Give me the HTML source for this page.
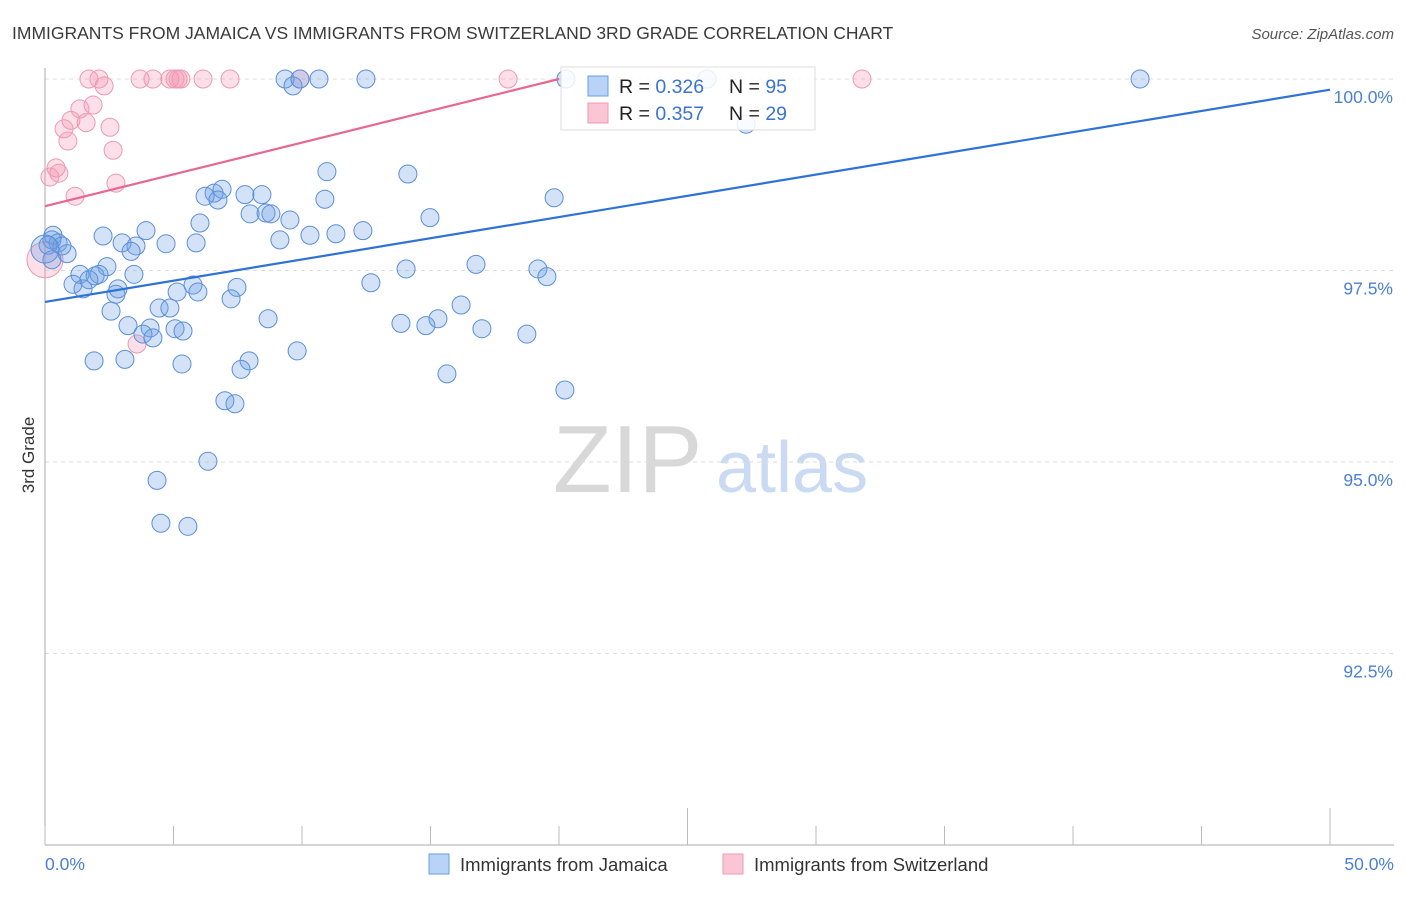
<!DOCTYPE html>
<html><head><meta charset="utf-8">
<style>
body{margin:0;background:#fff;font-family:"Liberation Sans",sans-serif;}
svg text{font-family:"Liberation Sans",sans-serif;}
</style></head>
<body>
<svg id="chart" width="1406" height="892" xmlns="http://www.w3.org/2000/svg">
<text x="12" y="39" font-size="17.5" fill="#3a3a3a">IMMIGRANTS FROM JAMAICA VS IMMIGRANTS FROM SWITZERLAND 3RD GRADE CORRELATION CHART</text>
<text x="1394" y="39" font-size="15" fill="#555" text-anchor="end" font-style="italic">Source: ZipAtlas.com</text>
<text x="34" y="455" font-size="17" fill="#333" text-anchor="middle" transform="rotate(-90 34 455)">3rd Grade</text>
<g>
<text x="553" y="492" font-size="96" fill="#d8d8d8" font-family="Liberation Serif, serif">ZIP</text>
<text x="716" y="492" font-size="72" fill="#c9daf2">atlas</text>
</g>
<g id="grid"></g>
<g id="axes"></g>
<g id="points"></g>
<g id="lines"></g>
<g>
<rect x="561" y="67" width="254" height="63" fill="rgba(255,255,255,0.85)" stroke="#ddd"/>
<rect x="588" y="76" width="20" height="20" fill="#b8d3f5" stroke="#6a9ee0"/>
<text x="619" y="93" font-size="19.5" fill="#222">R = <tspan fill="#3b73d0">0.326</tspan></text>
<text x="729" y="93" font-size="19.5" fill="#222">N = <tspan fill="#3b73d0">95</tspan></text>
<rect x="588" y="103" width="20" height="20" fill="#fac6d5" stroke="#ec9ab3"/>
<text x="619" y="120" font-size="19.5" fill="#222">R = <tspan fill="#3b73d0">0.357</tspan></text>
<text x="729" y="120" font-size="19.5" fill="#222">N = <tspan fill="#3b73d0">29</tspan></text>
</g>
<g>
<rect x="429" y="854" width="20" height="20" fill="#b8d3f5" stroke="#6a9ee0"/>
<text x="460" y="871" font-size="18.5" fill="#333">Immigrants from Jamaica</text>
<rect x="723" y="854" width="20" height="20" fill="#fac6d5" stroke="#ec9ab3"/>
<text x="754" y="871" font-size="18.5" fill="#333">Immigrants from Switzerland</text>
</g>
</svg>
<script>
const jamaicaX=[9.34,9.65,9.92,10.66,12.49,20.27,25.76,42.61,27.28,10.97,14.12,7.78,8.44,6.58,6.89,6.23,6.73,10.89,19.81,7.98,8.60,8.79,9.53,14.98,6.03,3.93,2.26,0.31,0.27,0.51,0.86,0.66,3.00,3.54,4.71,5.88,9.14,10.31,11.32,12.37,3.35,2.41,3.46,1.36,1.95,2.10,1.09,1.48,1.71,2.84,2.76,5.14,5.76,5.95,7.47,7.24,12.68,14.05,16.77,19.18,19.53,2.57,4.44,4.86,3.23,4.09,3.81,4.20,5.06,5.37,8.68,13.85,14.82,15.29,16.19,17.00,18.75,1.91,3.11,5.33,7.94,7.63,9.81,15.64,20.23,7.00,7.39,6.34,4.36,4.51,5.56,0.12,0.27,0.0];
const jamaicaY=[100,99.91,100,100,100,100,100,100,99.41,98.79,98.76,98.49,98.49,98.51,98.56,98.47,98.42,98.43,98.45,98.24,98.25,98.24,98.16,98.19,98.12,98.02,97.95,97.96,97.90,97.86,97.72,97.82,97.86,97.82,97.85,97.86,97.90,97.96,97.98,98.02,97.75,97.55,97.45,97.45,97.43,97.45,97.32,97.26,97.38,97.26,97.19,97.22,97.31,97.22,97.28,97.13,97.34,97.52,97.58,97.52,97.42,96.97,97.01,97.01,96.78,96.75,96.67,96.62,96.74,96.71,96.87,96.81,96.78,96.87,97.05,96.74,96.67,96.32,96.34,96.28,96.32,96.21,96.45,96.15,95.94,95.80,95.76,95.01,94.76,94.20,94.16,97.83,97.64,97.78];
const jamaicaR=[9,9,9,9,9,9,9,9,9,9,9,9,9,9,9,9,9,9,9,9,9,9,9,9,9,9,9,9,9,9,9,9,9,9,9,9,9,9,9,9,9,9,9,9,9,9,9,9,9,9,9,9,9,9,9,9,9,9,9,9,9,9,9,9,9,9,9,9,9,9,9,9,9,9,9,9,9,9,9,9,9,9,9,9,9,9,9,9,9,9,9,9,9,14];
const swissX=[1.71,2.10,2.30,3.70,4.20,4.86,5.06,5.18,5.29,6.15,7.20,9.92,18.02,31.79,1.87,1.36,1.01,1.60,0.74,2.53,0.89,2.65,0.43,0.54,0.19,2.76,1.17,3.58,0.0];
const swissY=[100,100,99.91,100,100,100,100,100,100,100,100,100,100,100,99.66,99.61,99.46,99.43,99.35,99.37,99.19,99.07,98.84,98.77,98.72,98.64,98.47,96.54,97.64];
const swissR=[9,9,9,9,9,9,9,9,9,9,9,9,9,9,9,9,9,9,9,9,9,9,9,9,9,9,9,9,18];
const trendJamaica=[[0,97.09],[50,99.86]];
const trendSwiss=[[0,98.34],[20,100.0]];
const yTicks=[100,97.5,95,92.5];
const yTickLabels=["100.0%","97.5%","95.0%","92.5%"];
const xTicks=[0,5,10,15,20,25,30,35,40,45,50];
const xEndLabels=["0.0%","50.0%"];

const NS="http://www.w3.org/2000/svg";
const sx=v=>45+v*25.7;
const sy=v=>79+(100-v)*76.6;
function mk(tag,attrs,parent){const e=document.createElementNS(NS,tag);for(const k in attrs)e.setAttribute(k,attrs[k]);parent.appendChild(e);return e;}
const grid=document.getElementById('grid'),axes=document.getElementById('axes'),pts=document.getElementById('points'),lines=document.getElementById('lines');
yTicks.forEach((t,i)=>{
  const l=mk('line',{x1:45,x2:1394,y1:sy(t),y2:sy(t),stroke:'#ddd','stroke-dasharray':'4,4'},grid);
  
  
  const tx=mk('text',{x:1393,y:sy(t)+24,'font-size':17.5,fill:'#4a7fd4','text-anchor':'end'},axes);
  tx.textContent=yTickLabels[i];
  
  
});
const yax=mk('line',{x1:45,x2:45,y1:68,y2:845,stroke:'#aaa'},axes);


const xax=mk('line',{x1:45,x2:1394,y1:845,y2:845,stroke:'#aaa'},axes);


xTicks.forEach(t=>{
  const long=(t===25||t===50);
  const l=mk('line',{x1:sx(t),x2:sx(t),y1:long?808:826,y2:845,stroke:'#bbb'},axes);
  
  
});
[0,50].forEach((t,i)=>{
  const tx=mk('text',{x:i?1394:45,y:870,'font-size':17.5,fill:'#4a7fd4','text-anchor':i?'end':'start'},axes);
  tx.textContent=xEndLabels[i];
  
  
});
swissX.forEach((x,i)=>{
  const c=mk('circle',{cx:sx(x),cy:sy(swissY[i]),r:swissR[i],fill:'rgba(244,150,180,0.3)',stroke:'#ec9ab3','stroke-width':1},pts);
  
  
});
jamaicaX.forEach((x,i)=>{
  const c=mk('circle',{cx:sx(x),cy:sy(jamaicaY[i]),r:jamaicaR[i],fill:'rgba(110,160,230,0.3)',stroke:'#5a8fd8','stroke-width':1},pts);
  
  
});
const lj=mk('line',{x1:sx(trendJamaica[0][0]),y1:sy(trendJamaica[0][1]),x2:sx(trendJamaica[1][0]),y2:sy(trendJamaica[1][1]),stroke:'#2f72d6','stroke-width':2.2},lines);


const ls=mk('line',{x1:sx(trendSwiss[0][0]),y1:sy(trendSwiss[0][1]),x2:sx(trendSwiss[1][0]),y2:sy(trendSwiss[1][1]),stroke:'#e8678f','stroke-width':2.2},lines);


</script>
</body></html>
